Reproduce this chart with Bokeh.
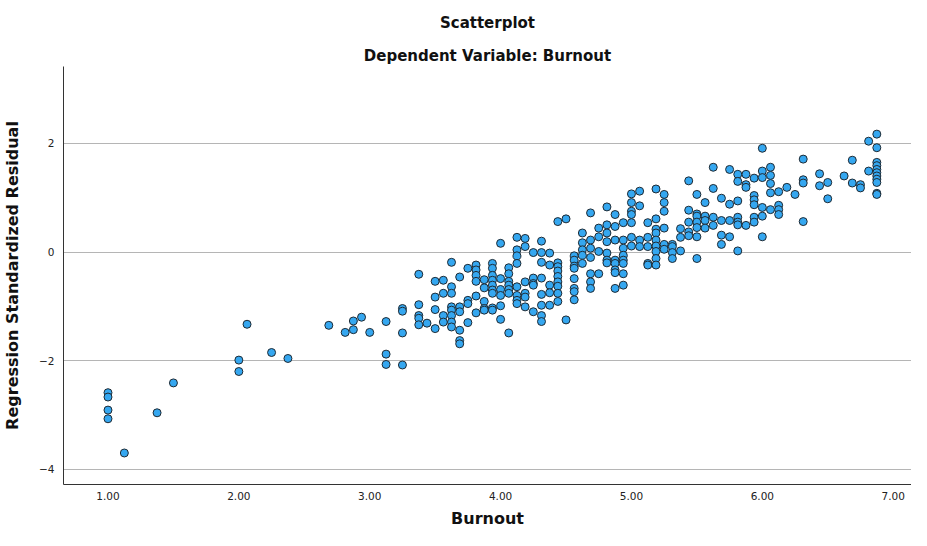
from bokeh.plotting import figure
from bokeh.models import Title, Range1d, FixedTicker, ColumnDataSource
from bokeh.embed import file_html
from bokeh.resources import INLINE

# Burnout levels (x) and the standardized residuals observed at each level (y)
burnout_levels = [
    1.0, 1.125, 1.375, 1.5, 2.0, 2.0625, 2.25, 2.375, 2.6875, 2.8125, 2.875, 2.9375,
    3.0, 3.125, 3.25, 3.375, 3.4375, 3.5, 3.5625, 3.625, 3.6875, 3.75, 3.8125, 3.875,
    3.9375, 4.0, 4.0625, 4.125, 4.1875, 4.25, 4.3125, 4.375, 4.4375, 4.5, 4.5625,
    4.625, 4.6875, 4.75, 4.8125, 4.875, 4.9375, 5.0, 5.0625, 5.125, 5.1875, 5.25,
    5.3125, 5.375, 5.4375, 5.5, 5.5625, 5.625, 5.6875, 5.75, 5.8125, 5.875, 5.9375,
    6.0, 6.0625, 6.125, 6.1875, 6.25, 6.3125, 6.4375, 6.5, 6.625, 6.6875, 6.75,
    6.8125, 6.875,
]
residuals_by_level = [
    [-2.59, -2.67, -2.91, -3.07],
    [-3.70],
    [-2.96],
    [-2.41],
    [-1.99, -2.20],
    [-1.33],
    [-1.85],
    [-1.96],
    [-1.35],
    [-1.48],
    [-1.27, -1.43],
    [-1.20],
    [-1.48],
    [-1.28, -1.88, -2.07],
    [-1.04, -1.09, -1.49, -2.08],
    [-0.41, -0.97, -1.17, -1.22, -1.34],
    [-1.31],
    [-0.54, -0.83, -1.06, -1.41],
    [-0.52, -0.76, -1.17, -1.29],
    [-0.19, -0.64, -0.76, -1.01, -1.07, -1.17, -1.29, -1.38],
    [-0.46, -1.01, -1.10, -1.44, -1.63, -1.69],
    [-0.30, -0.89, -0.95, -1.30],
    [-0.24, -0.33, -0.43, -0.54, -0.81, -1.12],
    [-0.51, -0.66, -0.91, -1.04, -1.07],
    [-0.21, -0.30, -0.43, -0.52, -0.61, -0.70, -0.76, -1.03, -1.07],
    [0.16, -0.49, -0.69, -0.80, -0.99, -1.24],
    [-0.29, -0.40, -0.54, -0.61, -0.69, -0.76, -1.49],
    [0.27, 0.04, -0.07, -0.21, -0.64, -0.80, -0.89, -0.95],
    [0.25, 0.10, -0.55, -0.76, -0.83, -1.01],
    [-0.01, -0.48, -0.58, -0.61, -1.10],
    [0.20, -0.01, -0.19, -0.48, -0.78, -0.98, -1.17, -1.28],
    [-0.02, -0.24, -0.61, -0.75, -0.98],
    [0.56, -0.20, -0.27, -0.35, -0.45, -0.55, -0.63, -0.76, -0.91],
    [0.61, -1.25],
    [-0.07, -0.15, -0.26, -0.30, -0.49, -0.67, -0.73, -0.88],
    [0.35, 0.17, 0.04, -0.06, -0.21],
    [0.72, 0.22, 0.07, -0.10, -0.40, -0.55, -0.67],
    [0.44, 0.28, 0.01, -0.40],
    [0.83, 0.50, 0.35, 0.19, -0.02, -0.15, -0.20],
    [0.69, 0.47, 0.22, -0.15, -0.21, -0.33, -0.38, -0.67],
    [0.54, 0.22, 0.07, -0.06, -0.15, -0.21, -0.40, -0.61],
    [1.07, 0.91, 0.75, 0.69, 0.54, 0.27, 0.11],
    [1.12, 0.85, 0.22, 0.10],
    [0.54, 0.27, 0.10, -0.21, -0.24],
    [1.16, 0.61, 0.42, 0.35, 0.22, 0.11, 0.01, -0.12, -0.24],
    [1.06, 0.91, 0.75, 0.44, 0.14, 0.05],
    [0.14, 0.10, -0.01, -0.12],
    [0.43, 0.27, 0.02],
    [1.31, 0.77, 0.55, 0.37, 0.30],
    [1.06, 0.70, 0.66, 0.55, 0.45, 0.28, -0.12],
    [0.91, 0.66, 0.58, 0.44],
    [1.56, 1.17, 0.64, 0.49],
    [0.99, 0.58, 0.31, 0.14],
    [1.52, 0.88, 0.58, 0.28],
    [1.43, 1.30, 0.94, 0.64, 0.55, 0.50, 0.02],
    [1.43, 1.24, 1.19, 0.49],
    [1.36, 1.04, 0.96, 0.87, 0.64, 0.55],
    [1.91, 1.49, 1.37, 0.82, 0.66, 0.28],
    [1.56, 1.41, 1.26, 1.09, 0.78],
    [1.11, 0.86, 0.78, 0.69],
    [1.19],
    [1.06],
    [1.71, 1.33, 1.27, 0.56],
    [1.44, 1.22],
    [1.28, 0.98],
    [1.40],
    [1.69, 1.27],
    [1.24, 1.18],
    [2.04, 1.49],
    [2.17, 1.92, 1.65, 1.59, 1.52, 1.46, 1.40, 1.34, 1.28, 1.08, 1.06],
]

x_ticks = [1, 2, 3, 4, 5, 6, 7]
x_tick_labels = ["1.00", "2.00", "3.00", "4.00", "5.00", "6.00", "7.00"]
y_ticks = [-4, -2, 0, 2]

chart_title = "Scatterplot"
chart_subtitle = "Dependent Variable: Burnout"
x_label = "Burnout"
y_label = "Regression Standardized Residual"

xs, ys = [], []
for lvl, vals in zip(burnout_levels, residuals_by_level):
    for v in vals:
        xs.append(lvl)
        ys.append(v)
src = ColumnDataSource(dict(x=xs, y=ys))

BOLD_FONT = "DejaVu Sans"
TICK_FONT = "DejaVu Sans"

p = figure(width=911, height=530, output_backend="svg", toolbar_location=None,
           x_range=Range1d(0.66, 7.14), y_range=Range1d(-4.28, 3.415),
           min_border_left=62, min_border_right=0, min_border_top=10,
           min_border_bottom=10)

p.title.text = chart_title
p.title.align = "center"
p.title.text_font = BOLD_FONT
p.title.text_font_size = "15px"
p.title.text_font_style = "bold"
p.title.text_color = "#111111"
p.title.standoff = 22
p.add_layout(Title(text=chart_subtitle, align="center", text_font=BOLD_FONT,
                   text_font_size="15px", text_font_style="bold",
                   text_color="#111111", standoff=4), "above")

p.outline_line_color = None
p.background_fill_color = "white"
p.border_fill_color = "white"

p.xgrid.grid_line_color = None
p.ygrid.grid_line_color = "#b5b5b5"
p.ygrid.grid_line_width = 1

p.xaxis.ticker = FixedTicker(ticks=x_ticks)
p.xaxis.major_label_overrides = {t: l for t, l in zip(x_ticks, x_tick_labels)}
p.yaxis.ticker = FixedTicker(ticks=y_ticks)

for ax in (p.xaxis, p.yaxis):
    ax.axis_line_color = "#333333"
    ax.axis_line_width = 1
    ax.major_tick_line_color = None
    ax.minor_tick_line_color = None
    ax.major_tick_out = 0
    ax.major_tick_in = 0
    ax.minor_tick_out = 0
    ax.major_label_text_font = TICK_FONT
    ax.major_label_text_font_size = "10.5px"
    ax.major_label_text_color = "#222222"
    ax.axis_label_text_font = BOLD_FONT
    ax.axis_label_text_font_size = "16px"
    ax.axis_label_text_font_style = "bold"
    ax.axis_label_text_color = "#111111"

p.xaxis.axis_label = x_label
p.yaxis.axis_label = y_label
p.xaxis.major_label_standoff = 7
p.xaxis.axis_label_standoff = 6
p.yaxis.major_label_standoff = 9
p.yaxis.axis_label_standoff = 14

p.scatter("x", "y", source=src, size=8, marker="circle",
          fill_color="#35a7f0", line_color="#1f2a33", line_width=1)

open("out.html", "w").write(file_html(p, INLINE))
